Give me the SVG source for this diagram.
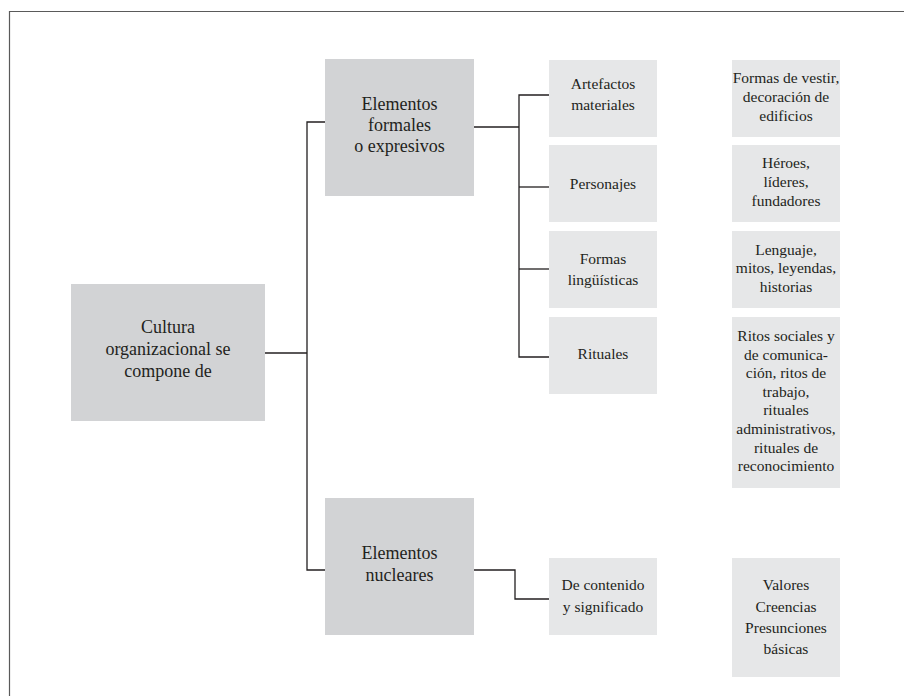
<svg xmlns="http://www.w3.org/2000/svg" width="904" height="696" viewBox="0 0 904 696">
  <style>
    .frame { fill: none; stroke: #5a5a5a; stroke-width: 1.2; }
    .main { fill: #d2d3d5; }
    .sub { fill: #e6e7e8; }
    .link { fill: none; stroke: #231f20; stroke-width: 1.3; }
    text { font-family: "Liberation Serif", "Times New Roman", serif; fill: #231f20; text-anchor: middle; }
    .t1 { font-size: 18px; }
    .t2 { font-size: 15.5px; }
  </style>

  <rect width="904" height="696" fill="#ffffff"/>
  <!-- page frame (left and top edges) -->
  <path class="frame" d="M9.5,696 V11.5 H904"/>

  <g id="connectors">
    <!-- root to the two main branches -->
    <path class="link" d="M265,353 H307"/>
    <path class="link" d="M325,122 H307 V570 H325"/>
    <!-- formal elements to their four children -->
    <path class="link" d="M474,127 H519"/>
    <path class="link" d="M549,95 H519 V357 H549"/>
    <path class="link" d="M519,187 H549"/>
    <path class="link" d="M519,269 H549"/>
    <!-- nuclear elements to its child -->
    <path class="link" d="M474,570 H515 V599 H549"/>
  </g>

  <g id="cultura">
    <rect class="main" x="71" y="284" width="194" height="137"/>
    <text class="t1" x="168" y="333">Cultura</text>
    <text class="t1" x="168" y="355">organizacional se</text>
    <text class="t1" x="168" y="377">compone de</text>
  </g>

  <g id="formales">
    <rect class="main" x="325" y="59" width="149" height="137"/>
    <text class="t1" x="399.5" y="110">Elementos</text>
    <text class="t1" x="399.5" y="131">formales</text>
    <text class="t1" x="399.5" y="152">o expresivos</text>
  </g>

  <g id="nucleares">
    <rect class="main" x="325" y="498" width="149" height="137"/>
    <text class="t1" x="399.5" y="559">Elementos</text>
    <text class="t1" x="399.5" y="581">nucleares</text>
  </g>

  <g id="artefactos">
    <rect class="sub" x="549" y="60" width="108" height="77"/>
    <text class="t2" x="603" y="89">Artefactos</text>
    <text class="t2" x="603" y="110">materiales</text>
  </g>

  <g id="personajes">
    <rect class="sub" x="549" y="145" width="108" height="77"/>
    <text class="t2" x="603" y="189">Personajes</text>
  </g>

  <g id="linguisticas">
    <rect class="sub" x="549" y="231" width="108" height="77"/>
    <text class="t2" x="603" y="264">Formas</text>
    <text class="t2" x="603" y="285">lingüísticas</text>
  </g>

  <g id="rituales">
    <rect class="sub" x="549" y="317" width="108" height="77"/>
    <text class="t2" x="603" y="359">Rituales</text>
  </g>

  <g id="contenido">
    <rect class="sub" x="549" y="558" width="108" height="77"/>
    <text class="t2" x="603" y="590">De contenido</text>
    <text class="t2" x="603" y="612">y significado</text>
  </g>

  <g id="vestir">
    <rect class="sub" x="732" y="60" width="108" height="77"/>
    <text class="t2" x="786" y="83">Formas de vestir,</text>
    <text class="t2" x="786" y="102">decoración de</text>
    <text class="t2" x="786" y="121">edificios</text>
  </g>

  <g id="heroes">
    <rect class="sub" x="732" y="145" width="108" height="77"/>
    <text class="t2" x="786" y="168">Héroes,</text>
    <text class="t2" x="786" y="187">líderes,</text>
    <text class="t2" x="786" y="206">fundadores</text>
  </g>

  <g id="lenguaje">
    <rect class="sub" x="732" y="231" width="108" height="77"/>
    <text class="t2" x="786" y="255">Lenguaje,</text>
    <text class="t2" x="786" y="273">mitos, leyendas,</text>
    <text class="t2" x="786" y="292">historias</text>
  </g>

  <g id="ritos">
    <rect class="sub" x="732" y="317" width="108" height="171"/>
    <text class="t2" x="786" y="341">Ritos sociales y</text>
    <text class="t2" x="786" y="360">de comunica-</text>
    <text class="t2" x="786" y="378">ción, ritos de</text>
    <text class="t2" x="786" y="397">trabajo,</text>
    <text class="t2" x="786" y="415">rituales</text>
    <text class="t2" x="786" y="434">administrativos,</text>
    <text class="t2" x="786" y="453">rituales de</text>
    <text class="t2" x="786" y="471">reconocimiento</text>
  </g>

  <g id="valores">
    <rect class="sub" x="732" y="558" width="108" height="119"/>
    <text class="t2" x="786" y="590">Valores</text>
    <text class="t2" x="786" y="612">Creencias</text>
    <text class="t2" x="786" y="633">Presunciones</text>
    <text class="t2" x="786" y="654">básicas</text>
  </g>
</svg>
